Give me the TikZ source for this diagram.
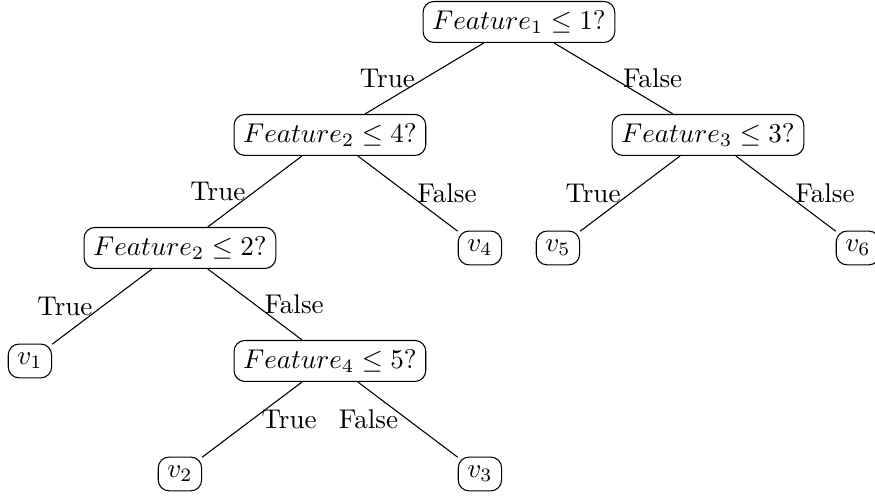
\documentclass[tikz,border=0pt]{standalone}
\begin{document}
\begin{tikzpicture}[level distance=41.7pt,
  level/.style={sibling distance=110.7pt},
  level 1/.style={sibling distance=139.5pt},
  test/.style={draw=black, rounded corners}]
\useasboundingbox (-191.5pt,-177.1pt) rectangle (131.4pt,8.1pt);
\node [test] (f1) {$ Feature_1 \leq 1? $}
  child {
    node [test] (f2a) {$ Feature_2 \leq 4? $}
    child {
      node [test] (f2b) {$ Feature_2 \leq 2? $}
      child {
        node [test] (v1) {$ v_1 $}
        edge from parent node[left] {True}
      }
      child {
        node [test] (f4) {$ Feature_4 \leq 5? $}
        child {
          node [test] (v2) {$ v_2 $}
          edge from parent node[right] {True}
        }
        child {
          node [test] (v3) {$ v_3 $}
          edge from parent node[left] {False}
        }
        edge from parent node[right] {False}
      }
      edge from parent node[left] {True}
    }
    child {
      node [test] (v4) {$ v_4 $}
      edge from parent node[right] {False}
    }
    edge from parent node[left] {True}
  }
  child {
    node [test] (f3) {$ Feature_3 \leq 3? $}
    child {
      node [test] (v5) {$ v_5 $}
      edge from parent node[left] {True}
    }
    child {
      node [test] (v6) {$ v_6 $}
      edge from parent node[right] {False}
    }
    edge from parent node[right] {False}
  };
\end{tikzpicture}
\end{document}
